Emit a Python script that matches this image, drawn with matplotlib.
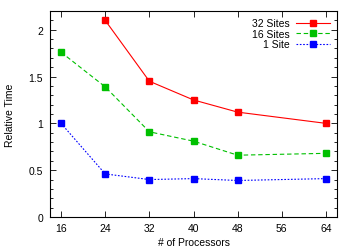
import numpy as np
import matplotlib.pyplot as plt
from matplotlib.ticker import MultipleLocator

# Data
procs_32 = [24, 32, 40, 48, 64]
sites_32 = [2.10, 1.45, 1.25, 1.12, 1.00]
procs = [16, 24, 32, 40, 48, 64]
sites_16 = [1.76, 1.39, 0.91, 0.81, 0.66, 0.68]
sites_1 = [1.00, 0.46, 0.40, 0.41, 0.39, 0.41]
xticks = [16, 24, 32, 40, 48, 56, 64]

plt.rcParams['font.family'] = ['Liberation Sans', 'DejaVu Sans']
plt.rcParams['font.size'] = 7.5

fig = plt.figure(figsize=(3.54, 2.51), dpi=100)
ax = fig.add_axes([50 / 354, 1 - 218 / 251, 287 / 354, 206 / 251])

ax.plot(procs_32, sites_32, color='#ff0000', lw=0.8, ls='-', marker='s', ms=4.5, label='32 Sites')
ax.plot(procs, sites_16, color='#00c000', lw=0.8, ls=(0, (4, 2.5)), marker='s', ms=4.5, label='16 Sites')
ax.plot(procs, sites_1, color='#0000ff', lw=0.8, ls=(0, (1.5, 1.5)), marker='s', ms=4.5, label='1 Site')

ax.set_xlim(14, 66)
ax.set_ylim(0, 2.2)
ax.set_xticks(xticks)
ax.set_yticks([0, 0.5, 1, 1.5, 2])
ax.set_yticklabels(['0', '0.5', '1', '1.5', '2'])
ax.yaxis.set_minor_locator(MultipleLocator(0.1))
ax.tick_params(which='both', direction='in', top=True, right=True, width=0.6)
ax.tick_params(which='major', length=4)
ax.tick_params(axis='x', which='major', pad=4)
ax.tick_params(axis='y', which='major', pad=5)
ax.tick_params(which='minor', length=2)
for s in ax.spines.values():
    s.set_linewidth(0.8)

ax.set_xlabel('# of Processors', labelpad=3)
ax.set_ylabel('Relative Time', labelpad=10)

ax.legend(loc='upper right', markerfirst=False, frameon=False, handlelength=3.2,
          handletextpad=0.6, labelspacing=0.05, borderaxespad=0.3, fontsize=7.5)

fig.savefig('out.png', dpi=100)
